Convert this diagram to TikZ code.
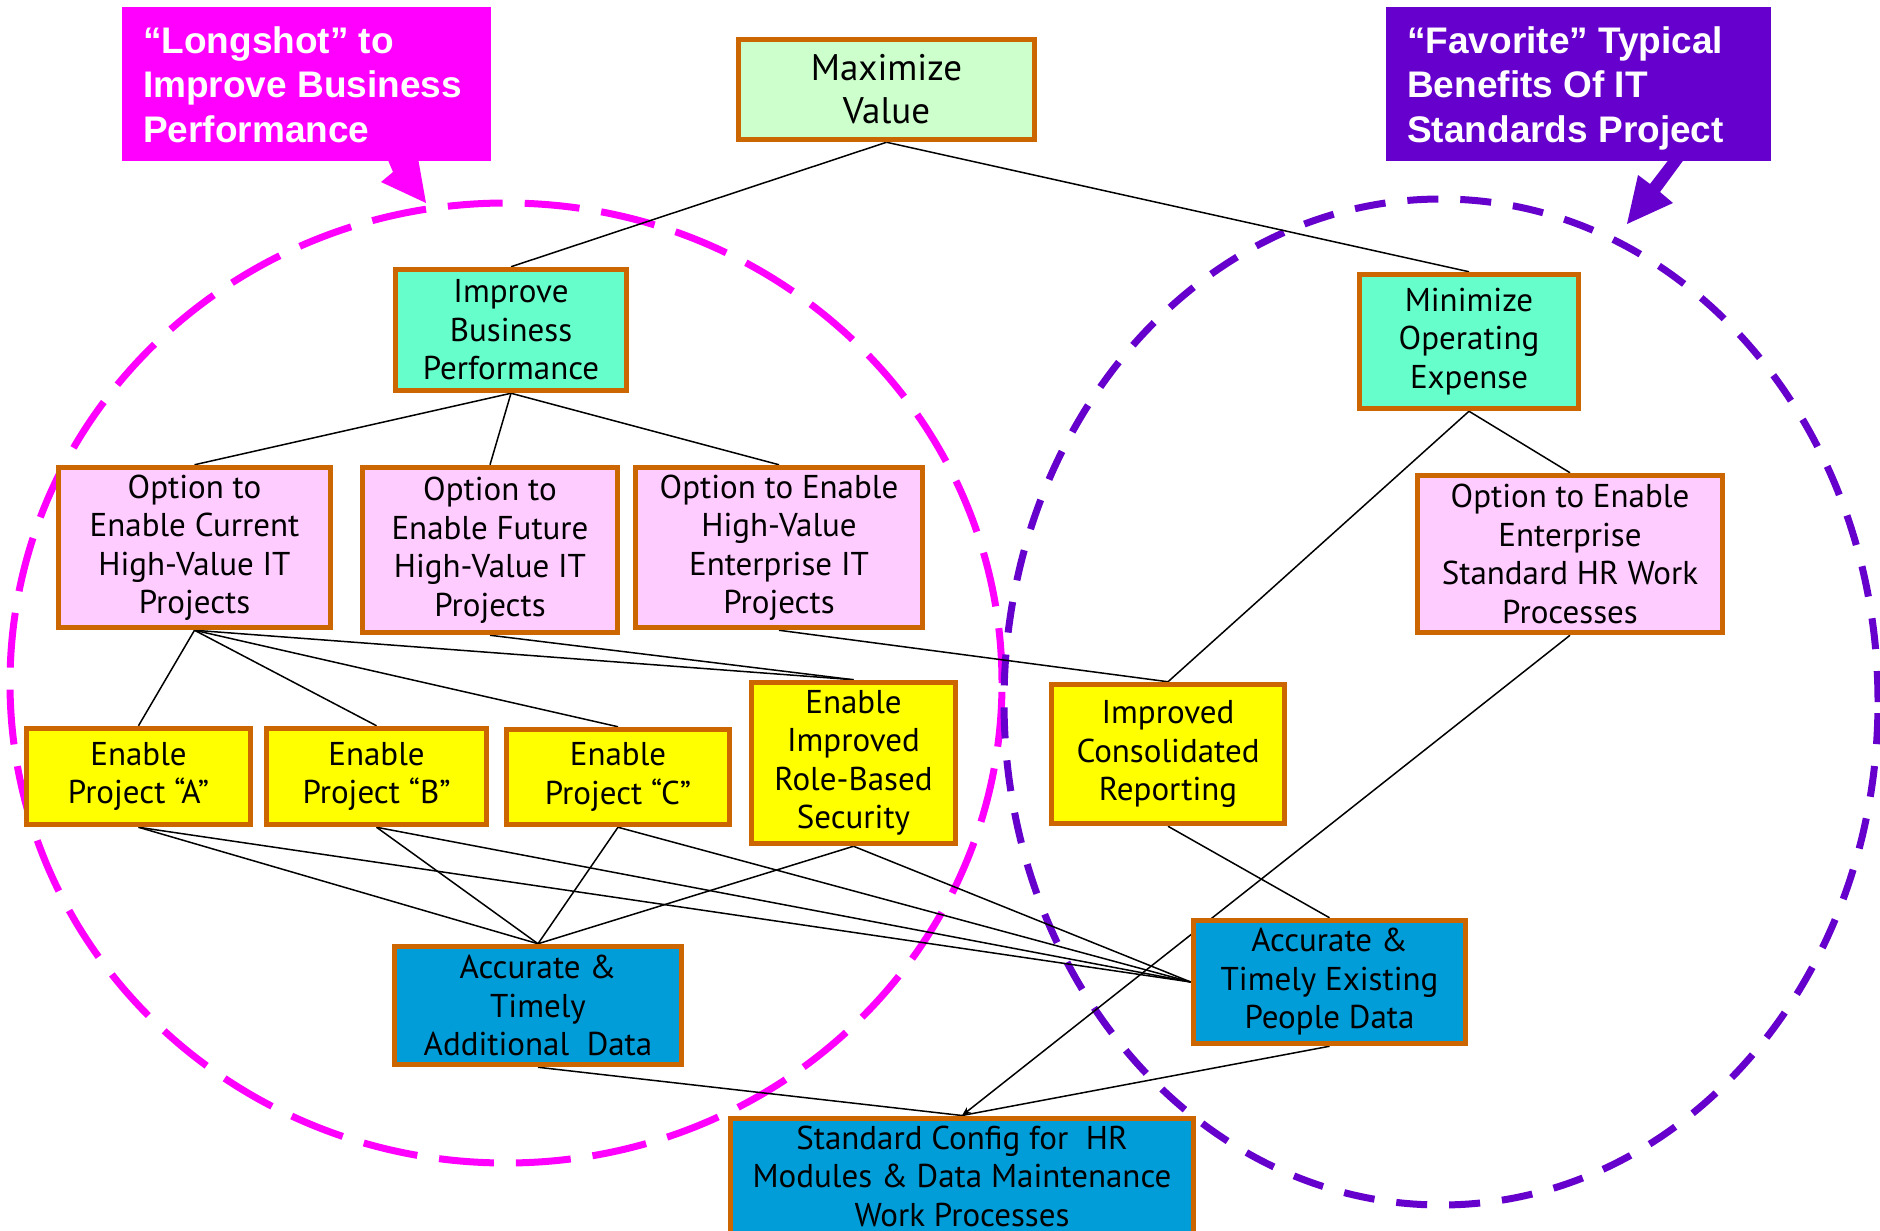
\documentclass[tikz,border=0pt]{standalone}
\usepackage{fontspec}
\setmainfont{PT Sans}
\newfontfamily\calloutfont{Liberation Sans}
\usetikzlibrary{arrows.meta}
\pgfdeclarelayer{ringlayer}
\pgfdeclarelayer{linklayer}
\pgfsetlayers{ringlayer,linklayer,main}
\definecolor{bord}{HTML}{CC6600}
\definecolor{mintgreen}{HTML}{CCFFCC}
\definecolor{aqua}{HTML}{66FFCC}
\definecolor{pinkbox}{HTML}{FFCCFF}
\definecolor{yelbox}{HTML}{FFFF00}
\definecolor{bluebox}{HTML}{009DD9}
\definecolor{magcol}{HTML}{FF00FF}
\definecolor{purcol}{HTML}{6600CC}
\begin{document}
\begin{tikzpicture}[x=1pt,y=-1pt,
  box/.style={draw=bord, line width=5.5pt, align=center, inner sep=0pt,
    font=\fontsize{33}{38.5}\selectfont},
  conn/.style={line width=1.5pt, black},
  callout/.style={align=left, inner sep=0pt, text=white,
    font=\calloutfont\bfseries\fontsize{37}{44.5}\selectfont},
  ring/.style={line width=7pt}]
\useasboundingbox (0,0) rectangle (1880,1231);

% dashed rings
\begin{pgfonlayer}{ringlayer}
\fill[white] (0,0) rectangle (1880,1231);
\draw[ring, magcol, dash pattern=on 55pt off 22pt] (506,683) ellipse [x radius=496pt, y radius=480pt];
\draw[ring, purcol, dash pattern=on 31pt off 22pt] (1441,702) ellipse [x radius=437pt, y radius=503pt];
\end{pgfonlayer}

% callouts
\node[fill=magcol, minimum width=369pt, minimum height=154pt, inner sep=0pt, anchor=north west] (lbox) at (122,7) {};
\fill[magcol] (387,158) -- (393,172) -- (381,182) -- (426,203) -- (418,158) -- cycle;
\node[callout, anchor=north west] (ltext) at (143,26) {“Longshot” to\\Improve Business\\Performance};

\node[fill=purcol, minimum width=385pt, minimum height=154pt, inner sep=0pt, anchor=north west] (rbox) at (1386,7) {};
\fill[purcol] (1670,158) -- (1650,184) -- (1638,175) -- (1627,224) -- (1673,203) -- (1660,192) -- (1685,158) -- cycle;
\node[callout, anchor=north west] (rtext) at (1407,26) {“Favorite” Typical\\Benefits Of IT\\Standards Project};

% boxes
\node[box, fill=mintgreen, minimum width=296pt, minimum height=100pt,
  font=\fontsize{37}{43}\selectfont] (max) at (886.5,89.5) {Maximize\\Value};
\node[box, fill=aqua, minimum width=231pt, minimum height=121pt] (ibp) at (511,330) {Improve\\Business\\Performance};
\node[box, fill=aqua, minimum width=219pt, minimum height=134pt] (moe) at (1469,341.5) {Minimize\\Operating\\Expense};
\node[box, fill=pinkbox, minimum width=272pt, minimum height=160pt] (oc) at (194.5,547.5) {Option to\\Enable Current\\High-Value IT\\Projects};
\node[box, fill=pinkbox, minimum width=255pt, minimum height=165pt] (of) at (490,550) {Option to\\Enable Future\\High-Value IT\\Projects};
\node[box, fill=pinkbox, minimum width=287pt, minimum height=160pt] (oe) at (779,547.5) {Option to Enable\\High-Value\\Enterprise IT\\Projects};
\node[box, fill=pinkbox, minimum width=305pt, minimum height=157pt] (ohr) at (1570,554) {Option to Enable\\Enterprise\\Standard HR Work\\Processes};
\node[box, fill=yelbox, minimum width=224pt, minimum height=96pt] (ea) at (138.5,776.5) {Enable\\Project “A”};
\node[box, fill=yelbox, minimum width=220pt, minimum height=96pt] (eb) at (376.5,776.5) {Enable\\Project “B”};
\node[box, fill=yelbox, minimum width=223pt, minimum height=95pt] (ec) at (618,777) {Enable\\Project “C”};
\node[box, fill=yelbox, minimum width=204pt, minimum height=161pt] (er) at (853.5,763) {Enable\\Improved\\Role-Based\\Security};
\node[box, fill=yelbox, minimum width=233pt, minimum height=139pt] (icr) at (1168,754) {Improved\\Consolidated\\Reporting};
\node[box, fill=bluebox, minimum width=287pt, minimum height=118pt] (ad) at (538,1005.5) {Accurate \&\\Timely\\Additional~~Data};
\node[box, fill=bluebox, minimum width=272pt, minimum height=123pt] (pd) at (1329.5,982) {Accurate \&\\Timely Existing\\People Data};
\node[box, fill=bluebox, minimum width=463pt, minimum height=140pt, anchor=north] (sc) at (962,1115.5) {};
\node[align=center, inner sep=0pt, font=\fontsize{33}{38.5}\selectfont] (sctext) at (962,1176) {Standard Config for~~HR\\Modules \& Data Maintenance\\Work Processes};

% connectors
\begin{pgfonlayer}{linklayer}
\draw[conn] (max.south) -- (ibp.north);
\draw[conn] (max.south) -- (moe.north);
\draw[conn] (ibp.south) -- (oc.north);
\draw[conn] (ibp.south) -- (of.north);
\draw[conn] (ibp.south) -- (oe.north);
\draw[conn] (moe.south) -- (ohr.north);
\draw[conn] (moe.south) -- (icr.north);
\draw[conn] (oc.south) -- (ea.north);
\draw[conn] (oc.south) -- (eb.north);
\draw[conn] (oc.south) -- (ec.north);
\draw[conn] (oc.south) -- (er.north);
\draw[conn] (of.south) -- (er.north);
\draw[conn] (oe.south) -- (icr.north);
\draw[conn] (ea.south) -- (ad.north);
\draw[conn] (eb.south) -- (ad.north);
\draw[conn] (ec.south) -- (ad.north);
\draw[conn] (er.south) -- (ad.north);
\draw[conn] (ea.south) -- (pd.west);
\draw[conn] (eb.south) -- (pd.west);
\draw[conn] (ec.south) -- (pd.west);
\draw[conn] (er.south) -- (pd.west);
\draw[conn] (icr.south) -- (pd.north);
\draw[conn] (ad.south) -- (sc.north);
\draw[conn] (pd.south) -- (sc.north);
\draw[conn, -{Stealth[length=9pt,width=7pt]}] (ohr.south) -- (sc.north);
\end{pgfonlayer}
\end{tikzpicture}
\end{document}
